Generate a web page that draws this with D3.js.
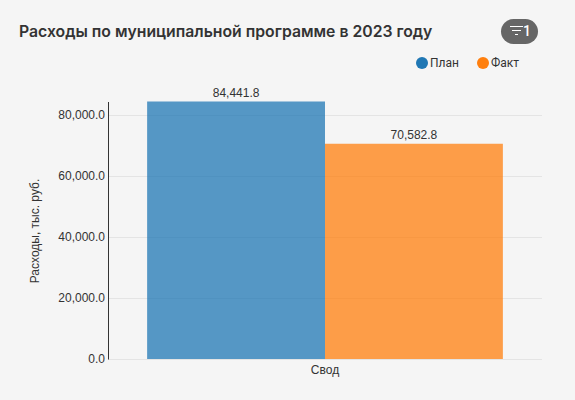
<!DOCTYPE html>
<html>
<head>
<meta charset="utf-8">
<script src="https://cdn.jsdelivr.net/npm/d3@7"></script>
<style>
	html, body { margin: 0; padding: 0; background: #f5f5f5; }
	svg { display: block; }
	.title { font: 600 15.77px Inter, Roboto, sans-serif; fill: #333; }
	.legend text { font: 12px Roboto, sans-serif; fill: #333; }
	.tick-label { font: 12px "Liberation Sans", Arial, sans-serif; fill: #333; }
	.value-label { font: 12px "Liberation Sans", Arial, sans-serif; fill: #333; }
</style>
</head>
<body>
<div id="chart"></div>
<script>
var categories = ["Свод"];
var seriesNames = ["План", "Факт"];
var seriesColors = ["#1f77b4", "#ff7f0e"];
var planValues = [84441.8];
var factValues = [70582.8];
var yTicks = [0, 20000, 40000, 60000, 80000];

var width = 575, height = 400;
var margin = {top: 101.5, right: 33, bottom: 41, left: 108};
var fmt = d3.format(",.1f");

var svg = d3.select("#chart").append("svg")
	.attr("width", width)
	.attr("height", height);

// title and filter badge
svg.append("text")
	.attr("class", "title")
	.attr("x", 19)
	.attr("y", 37)
	.text("Расходы по муниципальной программе в 2023 году");

var badge = svg.append("g").attr("transform", "translate(501,19)");
badge.append("rect")
	.attr("width", 37)
	.attr("height", 25)
	.attr("rx", 12.5)
	.attr("fill", "#666");
[[9, 22], [11, 20], [14, 17]].forEach(function(s, i){
	badge.append("line")
		.attr("x1", s[0])
		.attr("x2", s[1])
		.attr("y1", 7.5 + i * 4)
		.attr("y2", 7.5 + i * 4)
		.attr("stroke", "#fff")
		.attr("stroke-width", 1);
});
badge.append("text")
	.attr("x", 22)
	.attr("y", 16.5)
	.attr("fill", "#fff")
	.style("font", "500 14px Roboto, sans-serif")
	.text("1");

// legend
var legendX = [422, 483];
var legend = svg.append("g").attr("class", "legend");
seriesNames.forEach(function(name, i){
	legend.append("circle")
		.attr("cx", legendX[i])
		.attr("cy", 63)
		.attr("r", 6)
		.attr("fill", seriesColors[i]);
	legend.append("text")
		.attr("x", legendX[i] + 8)
		.attr("y", 67)
		.text(name);
});

// scales
var y = d3.scaleLinear()
	.domain([0, planValues[0]])
	.range([height - margin.bottom, margin.top]);

var x0 = d3.scaleBand()
	.domain(categories)
	.range([margin.left, width - margin.right])
	.paddingInner(0)
	.paddingOuter(0.11);

var x1 = d3.scaleBand()
	.domain(seriesNames)
	.range([0, x0.bandwidth()]);

// grid
svg.append("g").selectAll("line")
	.data(yTicks)
	.enter().append("line")
	.attr("x1", margin.left)
	.attr("x2", width - margin.right)
	.attr("y1", function(d){ return Math.round(y(d)) + 0.5; })
	.attr("y2", function(d){ return Math.round(y(d)) + 0.5; })
	.attr("stroke", "#e4e4e4");

// bars
var seriesValues = [planValues, factValues];
seriesNames.forEach(function(name, i){
	svg.append("g").selectAll("rect")
		.data(seriesValues[i])
		.enter().append("rect")
		.attr("x", function(d, j){ return x0(categories[j]) + x1(name); })
		.attr("y", function(d){ return y(d); })
		.attr("width", x1.bandwidth())
		.attr("height", function(d){ return y(0) - y(d); })
		.attr("fill", seriesColors[i])
		.attr("fill-opacity", 0.75);

	svg.append("g").selectAll("text")
		.data(seriesValues[i])
		.enter().append("text")
		.attr("class", "value-label")
		.attr("x", function(d, j){ return x0(categories[j]) + x1(name) + x1.bandwidth() / 2; })
		.attr("y", function(d){ return y(d) - 5; })
		.attr("text-anchor", "middle")
		.text(function(d){ return fmt(d); });
});

// y axis
var yAxis = svg.append("g")
	.attr("transform", "translate(" + margin.left + ",0)")
	.call(d3.axisLeft(y).tickValues(yTicks).tickFormat(fmt).tickSize(0).tickPadding(3));
yAxis.select(".domain").attr("stroke", "#333");
yAxis.selectAll("text").attr("class", "tick-label").attr("font-family", null).attr("font-size", null);

// x axis
var xAxis = svg.append("g")
	.attr("transform", "translate(0," + (height - margin.bottom) + ")")
	.call(d3.axisBottom(x0).tickSize(0).tickPadding(6));
xAxis.select(".domain").remove();
xAxis.selectAll("text").attr("class", "tick-label").attr("font-family", null).attr("font-size", null);

svg.append("text")
	.attr("class", "tick-label")
	.attr("transform", "translate(39,231) rotate(-90)")
	.attr("text-anchor", "middle")
	.text("Расходы, тыс. руб.");
</script>
</body>
</html>
